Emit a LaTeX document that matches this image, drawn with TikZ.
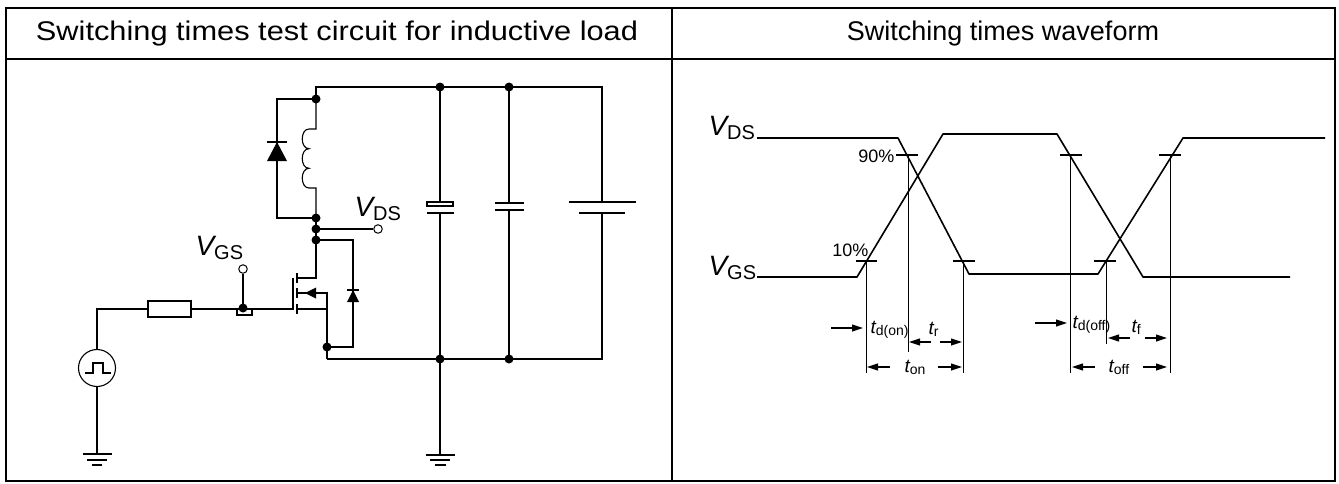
\documentclass[tikz,border=0pt]{standalone}
\usepackage{fontspec}
\setmainfont{Liberation Sans}
\usetikzlibrary{arrows.meta}
\newcommand{\bigV}[1]{{\fontsize{28}{28}\selectfont\itshape V}{\fontsize{20}{20}\selectfont\raisebox{-4pt}{#1}}}
\newcommand{\smallt}[1]{{\fontsize{19}{19}\selectfont\itshape t}{\fontsize{14}{14}\selectfont\raisebox{-2pt}{#1}}}
\begin{document}
\begin{tikzpicture}[x=1pt,y=-1pt,line width=1.1pt,
  wire/.style={line width=1.1pt,line join=miter},
  dotj/.style={circle,fill=black,inner sep=0pt,minimum size=9pt},
  term/.style={circle,draw,fill=white,inner sep=0pt,minimum size=8.5pt,line width=1pt},
  wave/.style={line width=1.6pt,line join=round},
  vline/.style={line width=1pt},
  tick/.style={line width=1.3pt},
  dimarrow/.style={line width=1.1pt,-{Triangle[length=11pt,width=7pt]}},
  titletext/.style={font=\fontsize{27}{27}\selectfont,inner sep=0pt},
  lbl/.style={inner sep=0pt},
  pct/.style={font=\fontsize{18}{18}\selectfont,inner sep=0pt}]
\useasboundingbox (0,0) rectangle (1339,483);
% table
\draw[line width=1.5pt] (6,8) rectangle (1335,481);
\draw[line width=1.5pt] (6,59) -- (1335,59);
\draw[line width=1.2pt] (672,8) -- (672,481);
\node[titletext] (t1) at (337,34) {\scalebox{1.14}[1]{Switching times test circuit for inductive load}};
\node[titletext] (t2) at (1003,34) {Switching times waveform};

% ---------------- circuit ----------------
\coordinate (topL) at (316,87);
\coordinate (topR) at (602,87);
\node[dotj] (jA) at (316,99) {};
\node[dotj] (jB) at (316,218) {};
\node[dotj] (jC) at (316,229) {};
\node[dotj] (jD) at (316,240) {};
\node[dotj] (jE) at (440,87) {};
\node[dotj] (jF) at (509,87) {};
\node[dotj] (jG) at (327,347) {};
\node[dotj] (jH) at (440,359) {};
\node[dotj] (jI) at (509,359) {};
\node[dotj] (jG2) at (243,308) {};
\node[term] (vds) at (378,229) {};
\node[term] (vgs) at (243,269) {};
% top rail
\draw[wire] (jA.center) -- (topL) -- (topR) -- (602,202);
% inductor
\draw[wire] (jA.center) -- (316,129) -- (309,129)
  .. controls (300,129) and (300,148.7) .. (309,148.7)
  .. controls (300,148.7) and (300,168.3) .. (309,168.3)
  .. controls (300,168.3) and (300,188) .. (309,188) -- (316,188) -- (jB.center);
% freewheel diode
\draw[wire] (jA.center) -- (277,99) -- (277,218) -- (jB.center);
\fill (277,142) -- (267,161) -- (287,161) -- cycle;
\draw[wire] (267,142) -- (287,142);
\draw[wire] (jB.center) -- (jD.center);
% VDS terminal
\draw[wire] (jC.center) -- (vds.west);
\node[lbl,anchor=base west] (lvds) at (354,216) {\bigV{DS}};
% MOSFET
\draw[wire] (jD.center) -- (316,278) -- (297,278);
\draw[wire] (297,273) -- (297,283);
\draw[wire] (297,288) -- (297,298);
\draw[wire] (297,304) -- (297,314);
\draw[wire] (293,278) -- (293,310);
\draw[wire] (297,293) -- (327,293) -- (327,359);
\fill (305,293) -- (316,287.5) -- (316,298.5) -- cycle;
\draw[wire] (297,309) -- (327,309);
% body diode
\draw[wire] (jD.center) -- (353,240) -- (353,302) -- (353,347) -- (jG.center);
\fill (353,290) -- (347,302) -- (359,302) -- cycle;
\draw[wire] (347,290) -- (359,290);
% bottom rail
\draw[wire] (327,359) -- (602,359) -- (602,213);
% capacitors
\draw[wire] (jE.center) -- (440,202);
\draw[wire] (427,202) rectangle (453,206);
\draw[wire] (427,213) -- (454,213);
\draw[wire] (440,213) -- (jH.center);
\draw[wire] (jF.center) -- (509,203);
\draw[wire] (495,203) -- (524,203);
\draw[wire] (495,210) -- (524,210);
\draw[wire] (509,210) -- (jI.center);
% battery
\draw[wire] (569,202) -- (636,202);
\draw[wire] (579,213) -- (625,213);
% ground right
\draw[wire] (jH.center) -- (440,455);
\draw[wire] (426,455) -- (455,455);
\draw[wire] (430,460) -- (450,460);
\draw[wire] (435,465) -- (446,465);
% gate drive
\node[draw,line width=1.1pt,minimum width=43pt,minimum height=16pt,inner sep=0pt] (res) at (169.5,309) {};
\node[circle,draw,line width=1.1pt,minimum size=37pt,inner sep=0pt] (src) at (97,368) {};
\draw[wire] (res.east) -- (293,309);
\draw[wire] (237,309) -- (237,315) -- (252,315) -- (252,309);
\draw[wire] (vgs.south) -- (jG2.center);
\node[lbl,anchor=base west] (lvgs) at (195,255) {\bigV{GS}};
\draw[wire] (res.west) -- (97,309) -- (src.north);
\draw[wire] (85,373) -- (93,373) -- (93,363) -- (103,363) -- (103,373) -- (111,373);
\draw[wire] (src.south) -- (97,454);
\draw[wire] (83,454) -- (112,454);
\draw[wire] (87,460) -- (107,460);
\draw[wire] (92,465) -- (102,465);

% ---------------- waveform ----------------
\node[lbl,anchor=base west] (wvds) at (708,135) {\bigV{DS}};
\node[lbl,anchor=base west] (wvgs) at (708,275) {\bigV{GS}};
\draw[wave] (757,277) -- (857,277) -- (943,134) -- (1057,134) -- (1143,277) -- (1290,277);
\draw[wave] (757,138) -- (898,138) -- (969,274) -- (1098,274) -- (1183,138) -- (1325,138);
% ticks
\draw[tick] (896,155) -- (918,155);
\draw[tick] (856,261) -- (877,261);
\draw[tick] (953,261) -- (975,261);
\draw[tick] (1060,155) -- (1082,155);
\draw[tick] (1094,261) -- (1116,261);
\draw[tick] (1159,155) -- (1181,155);
\node[pct,anchor=base east] (p90) at (895,162) {90\%};
\node[pct,anchor=base east] (p10) at (869,256) {10\%};
% verticals
\draw[vline] (866,261) -- (866,373);
\draw[vline] (908,155) -- (908,352);
\draw[vline] (963,261) -- (963,373);
\draw[vline] (1070,155) -- (1070,373);
\draw[vline] (1106,261) -- (1106,344);
\draw[vline] (1170,155) -- (1170,373);
% arrows
\draw[dimarrow] (831,328) -- (863,328);
\draw[dimarrow] (931,342) -- (909,342);
\draw[dimarrow] (940,342) -- (962,342);
\draw[dimarrow] (890,367) -- (867,367);
\draw[dimarrow] (938,367) -- (962,367);
\draw[dimarrow] (1035,323) -- (1067,323);
\draw[dimarrow] (1130,338) -- (1108,338);
\draw[dimarrow] (1145,338) -- (1167,338);
\draw[dimarrow] (1095,367) -- (1072,367);
\draw[dimarrow] (1143,367) -- (1167,367);
\node[lbl,anchor=base west] (ldon) at (870,333) {\smallt{d(on)}};
\node[lbl,anchor=base west] (ltr) at (928,334) {\smallt{r}};
\node[lbl,anchor=base west] (lton) at (904,372) {\smallt{on}};
\node[lbl,anchor=base west] (ldoff) at (1072,328) {\smallt{d(off)}};
\node[lbl,anchor=base west] (ltf) at (1131,332) {\smallt{f}};
\node[lbl,anchor=base west] (ltoff) at (1108,372) {\smallt{off}};
\end{tikzpicture}
\end{document}
